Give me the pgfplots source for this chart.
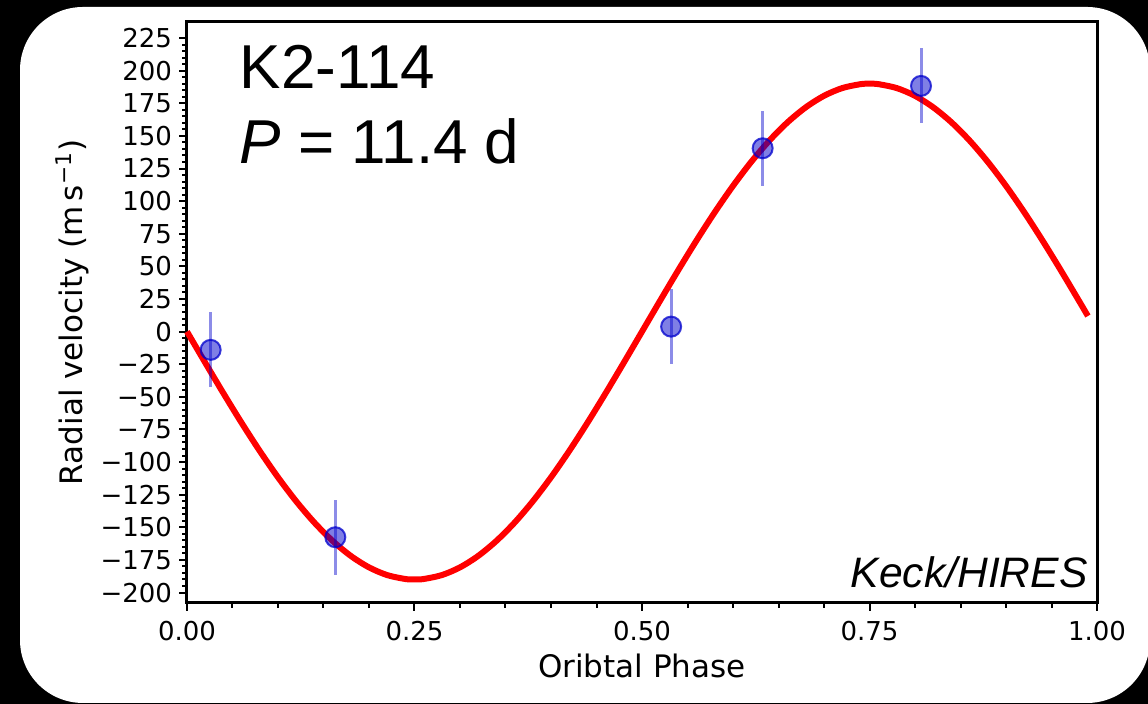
\documentclass[border=0pt]{standalone}
\usepackage{fontspec}
\setmainfont{DejaVu Sans}
\newfontfamily\helv{Liberation Sans}
\usepackage{pgfplots}
\pgfplotsset{compat=1.18}

\definecolor{ptblue}{RGB}{0,0,205}
\definecolor{fitred}{RGB}{255,0,0}

\begin{document}
\begin{tikzpicture}
% black surround and white rounded panel
\useasboundingbox (0,0) rectangle (574pt,352pt);
\fill[black] (0,0) rectangle (574pt,352pt);
\fill[white, rounded corners=31.5pt] (10pt,0.5pt) rectangle (575pt,348.5pt);

\begin{axis}[
  at={(93.5pt,50.5pt)}, anchor=south west,
  scale only axis, width=455pt, height=290.5pt,
  xmin=0, xmax=1, ymin=-208, ymax=237.3,
  axis line style={line width=1.5pt},
  tick align=outside, tick pos=left,
  major tick length=4pt, minor tick length=2.4pt,
  every tick/.style={line width=1pt, black},
  xtick={0,0.25,0.5,0.75,1},
  xticklabels={0.00,0.25,0.50,0.75,1.00},
  minor x tick num=4,
  ytick={-200,-175,...,225},
  yticklabels={\textminus200,\textminus175,\textminus150,\textminus125,\textminus100,\textminus75,\textminus50,\textminus25,0,25,50,75,100,125,150,175,200,225},
  minor y tick num=4,
  ticklabel style={font=\fontsize{13}{15}\selectfont},
  xticklabel style={yshift=-1.5pt},
  xlabel={Oribtal Phase},
  ylabel={Radial velocity (m\,s\textsuperscript{\textminus1})},
  label style={font=\fontsize{15.5}{18}\selectfont},
  ylabel style={yshift=-1pt},
  clip=false,
]
% circular-orbit fit
\addplot[fitred, line width=3pt, smooth] coordinates {
(0.00,0.00) (0.02,-23.81) (0.04,-47.25) (0.06,-69.94) (0.08,-91.53)
(0.10,-111.68) (0.12,-130.06) (0.14,-146.40) (0.16,-160.42) (0.18,-171.92)
(0.20,-180.70) (0.22,-186.63) (0.24,-189.63) (0.25,-190.00) (0.26,-189.63)
(0.28,-186.63) (0.30,-180.70) (0.32,-171.92) (0.34,-160.42) (0.36,-146.40)
(0.38,-130.06) (0.40,-111.68) (0.42,-91.53) (0.44,-69.94) (0.46,-47.25)
(0.48,-23.81) (0.50,0.00) (0.52,23.81) (0.54,47.25) (0.56,69.94)
(0.58,91.53) (0.60,111.68) (0.62,130.06) (0.64,146.40) (0.66,160.42)
(0.68,171.92) (0.70,180.70) (0.72,186.63) (0.74,189.63) (0.75,190.00)
(0.76,189.63) (0.78,186.63) (0.80,180.70) (0.82,171.92) (0.84,160.42)
(0.86,146.40) (0.88,130.06) (0.90,111.68) (0.92,91.53) (0.94,69.94)
(0.96,47.25) (0.98,23.81) (0.99,11.93)
};
% HIRES velocities
\addplot[
  only marks, mark=*, mark size=5pt,
  mark options={fill=ptblue, fill opacity=0.5, draw=ptblue, draw opacity=0.75, line width=1pt},
  error bars/.cd, y dir=both, y explicit,
  error mark=none,
  error bar style={line width=1.5pt, ptblue, opacity=0.45},
] coordinates {
(0.026,-14.0) +- (0,28.7)
(0.163,-157.6) +- (0,28.7)
(0.532,3.8) +- (0,28.7)
(0.6326,140.5) +- (0,28.7)
(0.8066,188.3) +- (0,28.7)
};
\node[anchor=base west, inner sep=0pt, font=\helv\fontsize{31}{36}\selectfont]
  at (rel axis cs:0.0575,0.886) {K2-114};
\node[anchor=base west, inner sep=0pt, font=\helv\fontsize{31}{36}\selectfont]
  at (rel axis cs:0.0575,0.757) {\itshape P\upshape\ = 11.4 d};
\node[anchor=base east, inner sep=0pt, font=\helv\itshape\fontsize{21.3}{25}\selectfont]
  at (rel axis cs:0.990,0.0258) {Keck/HIRES};
\end{axis}
\end{tikzpicture}
\end{document}
